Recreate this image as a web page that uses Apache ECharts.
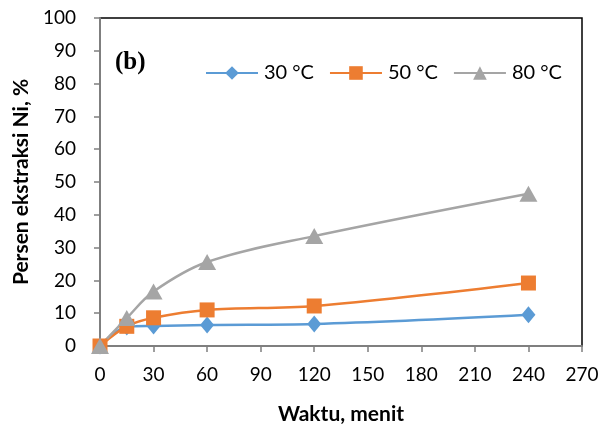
<!DOCTYPE html>
<html>
<head>
<meta charset="utf-8">
<script src="https://cdn.jsdelivr.net/npm/echarts@6/dist/echarts.min.js"></script>
<style>
html,body{margin:0;padding:0;background:#fff;}
#chart{width:616px;height:426px;}
</style>
</head>
<body>
<div id="chart"></div>
<script>
// Extraction time (minutes) and nickel extraction (%) at each temperature
const waktu = [0, 15, 30, 60, 120, 240];
const ekstraksi30 = [0, 5.8, 6.1, 6.4, 6.7, 9.5];
const ekstraksi50 = [0, 6.0, 8.6, 11.0, 12.2, 19.2];
const ekstraksi80 = [0, 8.5, 16.6, 25.6, 33.5, 46.4];
const seriesNames = ['30 °C', '50 °C', '80 °C'];
const xTicks = [0, 30, 60, 90, 120, 150, 180, 210, 240, 270];

const font = 'Lato, "Open Sans", sans-serif';
const pairs = arr => waktu.map((t, i) => [t, arr[i]]);

const chart = echarts.init(document.getElementById('chart'));
chart.setOption({
  animation: false,
  backgroundColor: '#fff',
  grid: {
    left: 100, right: 34, top: 18, bottom: 80,
    outerBoundsMode: 'none', containLabel: false,
    show: true, borderColor: '#000', borderWidth: 1.5, backgroundColor: 'transparent'
  },
  graphic: [{
    type: 'text', left: 115, top: 50,
    style: { text: '(b)', font: 'bold 25px "Liberation Serif", serif', fill: '#000' }
  }],
  legend: {
    left: 200, top: 58,
    itemWidth: 52, itemHeight: 17, itemGap: 15,
    textStyle: { fontFamily: font, fontSize: 20, color: '#000', padding: [0, 0, 0, 1] },
    data: seriesNames
  },
  xAxis: {
    type: 'value', min: 0, max: 270, interval: 30,
    name: 'Waktu, menit', nameLocation: 'middle', nameGap: 58,
    nameTextStyle: { fontFamily: font, fontSize: 21, fontWeight: 'bold', color: '#000' },
    axisLine: { lineStyle: { color: '#7f7f7f', width: 2 } },
    axisTick: { show: true, length: 6, lineStyle: { color: '#7f7f7f', width: 1.5 } },
    axisLabel: { fontFamily: font, fontSize: 19, color: '#000', margin: 19,
      formatter: v => xTicks.includes(v) ? String(v) : '' },
    splitLine: { show: false }
  },
  yAxis: {
    type: 'value', min: 0, max: 100, interval: 10,
    name: 'Persen ekstraksi Ni, %', nameLocation: 'middle', nameGap: 62,
    nameTextStyle: { fontFamily: font, fontSize: 21, fontWeight: 'bold', color: '#000' },
    axisLine: { show: true, lineStyle: { color: '#7f7f7f', width: 2 } },
    axisTick: { show: true, length: 6, lineStyle: { color: '#7f7f7f', width: 1.5 } },
    axisLabel: { fontFamily: font, fontSize: 19, color: '#000', margin: 24 },
    splitLine: { show: false }
  },
  series: [
    {
      name: seriesNames[0], type: 'line', smooth: 0.35, data: pairs(ekstraksi30),
      symbol: 'diamond', symbolSize: [14, 17],
      lineStyle: { color: '#5B9BD5', width: 2.5 },
      itemStyle: { color: '#5B9BD5' }
    },
    {
      name: seriesNames[1], type: 'line', smooth: 0.35, data: pairs(ekstraksi50),
      symbol: 'rect', symbolSize: 15,
      lineStyle: { color: '#ED7D31', width: 2.5 },
      itemStyle: { color: '#ED7D31' }
    },
    {
      name: seriesNames[2], type: 'line', smooth: 0.35, data: pairs(ekstraksi80),
      symbol: 'triangle', symbolSize: [18, 16],
      lineStyle: { color: '#A5A5A5', width: 2.5 },
      itemStyle: { color: '#A5A5A5' }
    }
  ]
});
</script>
</body>
</html>
